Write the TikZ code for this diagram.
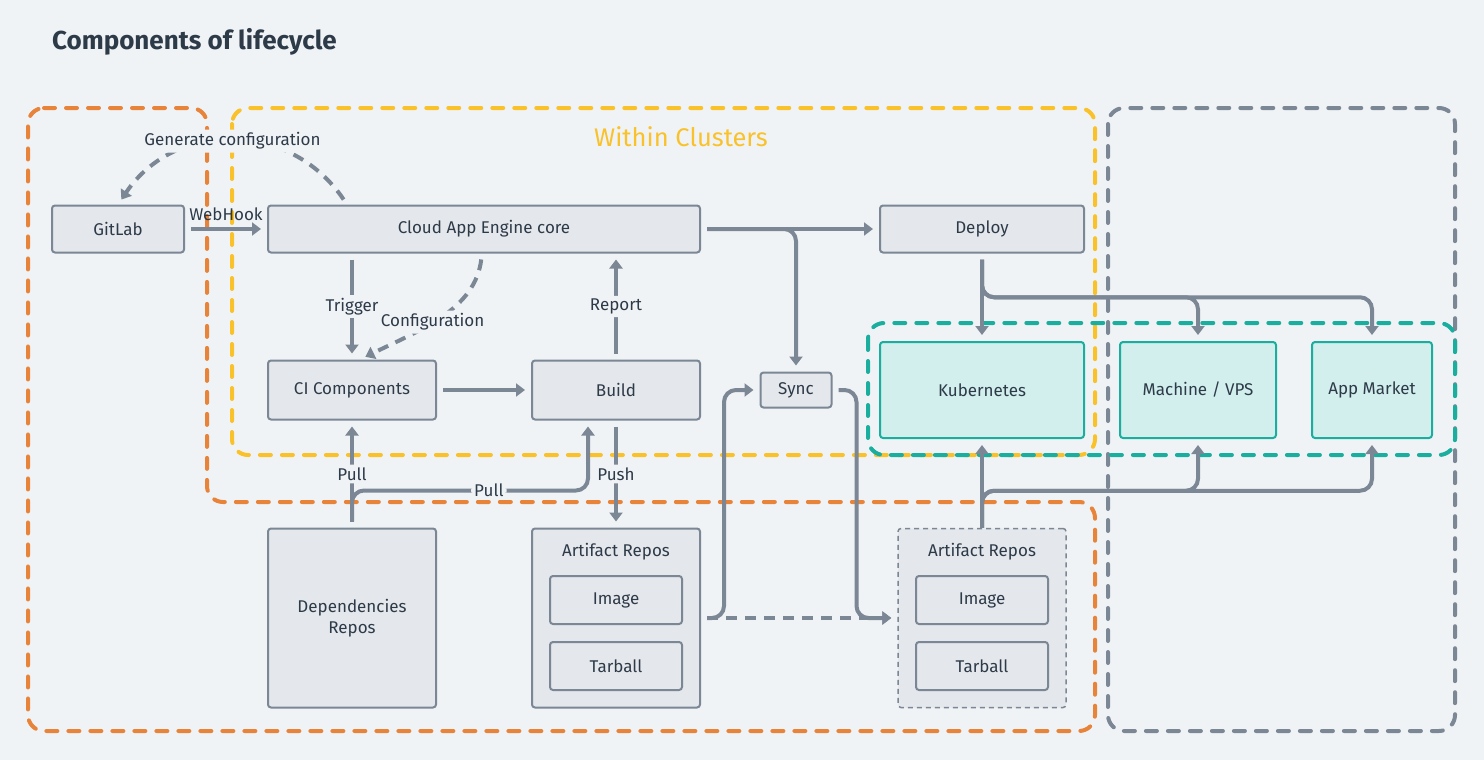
\documentclass[tikz,border=0pt]{standalone}
\usepackage{fontspec}
\setmainfont{Fira Sans}
\usetikzlibrary{arrows.meta,calc}

\definecolor{BgGray}{HTML}{F0F3F6}
\definecolor{LineGray}{HTML}{7B8794}
\definecolor{BoxFill}{HTML}{E4E7EB}
\definecolor{TextDark}{HTML}{2D3A48}
\definecolor{TealFill}{HTML}{D2EEED}
\definecolor{TealLine}{HTML}{1AAE9F}
\definecolor{ZoneOrange}{HTML}{E8833A}
\definecolor{ZoneYellow}{HTML}{F9C22B}

\tikzstyle{box}=[draw=LineGray, fill=BoxFill, line width=2pt, rounded corners=3pt, text=TextDark, font=\fontsize{17}{21}\selectfont, inner sep=0pt]
\tikzstyle{target-box}=[box, draw=TealLine, fill=TealFill]
\tikzstyle{mirror-box}=[box, line width=1.5pt, dash pattern=on 5pt off 4pt]
\tikzstyle{link}=[draw=LineGray, line width=4pt, -{Triangle[width=13pt,length=9pt]}, rounded corners=12pt, shorten <=6pt, shorten >=6pt]
\tikzstyle{dash-link}=[link, dash pattern=on 11pt off 8pt]
\tikzstyle{link-text}=[fill=BgGray, text=TextDark, font=\fontsize{17}{21}\selectfont, inner sep=3pt]
\tikzstyle{zone}=[line width=4pt, dash pattern=on 11pt off 11pt, line cap=round, rounded corners=16pt]

\begin{document}
\begin{tikzpicture}[x=1pt, y=-1pt]
  \fill[BgGray] (0,0) rectangle (1484,760);
  \useasboundingbox (0,0) rectangle (1484,760);

  % zones
  \draw[zone, draw=ZoneOrange] (28,108) -- (207,108) -- (207,502) -- (1095,502) -- (1095,731) -- (28,731) -- cycle;
  \draw[zone, draw=ZoneYellow] (232,108) rectangle (1095,455);
  \draw[zone, draw=LineGray] (1108,108) rectangle (1455,731);
  \draw[zone, draw=TealLine] (868,323) rectangle (1455,455);

  \node (title) at (52,42) [anchor=west, inner sep=0pt, text=TextDark, font=\fontsize{26}{30}\selectfont\bfseries] {Components of lifecycle};
  \node (clusters-title) at (681,137) [text=ZoneYellow, font=\fontsize{25.5}{30}\selectfont] {Within Clusters};

  % nodes
  \node (gitlab) at (118,229) [box, minimum width=132pt, minimum height=47pt] {GitLab};
  \node (core) at (484,229) [box, minimum width=432pt, minimum height=47pt] {Cloud App Engine core};
  \node (deploy) at (982,229) [box, minimum width=204pt, minimum height=47pt] {Deploy};
  \node (ci) at (352,390) [box, minimum width=168pt, minimum height=59pt] {CI Components};
  \node (build) at (616,390) [box, minimum width=168pt, minimum height=59pt] {Build};
  \node (sync) at (796,390) [box, minimum width=71pt, minimum height=35pt] {Sync};
  \node (k8s) at (982,390) [target-box, minimum width=204pt, minimum height=96pt] {Kubernetes};
  \node (vps) at (1198,390) [target-box, minimum width=156pt, minimum height=96pt] {Machine / VPS};
  \node (market) at (1372,390) [target-box, minimum width=120pt, minimum height=96pt] {App Market};
  \node (deps) at (352,618) [box, minimum width=168pt, minimum height=179pt, align=center] {Dependencies\\Repos};

  \node (artifact) at (616,618) [box, minimum width=168pt, minimum height=179pt] {};
  \node (artifact-title) at (616,552) [text=TextDark, font=\fontsize{17}{21}\selectfont] {Artifact Repos};
  \node (image) at (616,600) [box, minimum width=132pt, minimum height=48pt] {Image};
  \node (tarball) at (616,666) [box, minimum width=132pt, minimum height=48pt] {Tarball};

  \node (mirror) at (982,618) [mirror-box, minimum width=168pt, minimum height=179pt] {};
  \node (mirror-title) at (982,552) [text=TextDark, font=\fontsize{17}{21}\selectfont] {Artifact Repos};
  \node (mirror-image) at (982,600) [box, minimum width=132pt, minimum height=48pt] {Image};
  \node (mirror-tarball) at (982,666) [box, minimum width=132pt, minimum height=48pt] {Tarball};

  % split points
  \coordinate (deploy-split) at ($(deploy.south)!0.5!(k8s.north)$);
  \coordinate (mirror-split) at ($(mirror.north)+(0,-37)$);
  \coordinate (pull-split) at ($(deps.north)+(0,-37)$);
  \coordinate (artifact-split) at ($(artifact.east)+(23,0)$);
  \coordinate (sync-split) at ($(sync.east)+(24,0)$);

  % connectors
  \draw[link] (gitlab) -- node[above=6pt, text=TextDark, font=\fontsize{17}{21}\selectfont, inner sep=0pt] {WebHook} (core);
  \draw[dash-link] ([xshift=-137pt]core.north) .. controls (290,120) and (175,120) .. (gitlab.north)
    node[link-text, pos=0.5] {Generate configuration};
  \draw[link] (core.south -| ci.north) -- node[link-text] {Trigger} (ci.north);
  \draw[dash-link] ([xshift=-2pt]core.south) .. controls (475,310) and (420,330) .. ([xshift=8pt]ci.north)
    node[link-text, pos=0.56] {Configuration};
  \draw[link] (build.north) -- node[link-text] {Report} (build.north |- core.south);
  \draw[link] (ci) -- (build);
  \draw[link] (core) -- (deploy);
  \draw[link] (core.east) -| (sync.north);
  \draw[link] (deploy.south) -- (k8s.north);
  \draw[link] (deploy.south) -- (deploy-split) -| (vps.north);
  \draw[link] (deploy.south) -- (deploy-split) -| (market.north);
  \draw[link] (deps.north) -- node[link-text] {Pull} (ci.south);
  \draw[link] (deps.north) -- (pull-split) -| node[link-text, pos=0.29] {Pull} ([xshift=-28pt]build.south);
  \draw[link] (build.south) -- node[link-text] {Push} (artifact.north);
  \draw[dash-link] (artifact.east) -- (mirror.west);
  \draw[link] (artifact.east) -- (artifact-split) |- (sync.west);
  \draw[link] (sync.east) -- (sync-split) |- (mirror.west);
  \draw[link, shorten <=0pt] (mirror.north) -- (k8s.south);
  \draw[link, shorten <=0pt] (mirror.north) -- (mirror-split) -| (vps.south);
  \draw[link, shorten <=0pt] (mirror.north) -- (mirror-split) -| (market.south);
\end{tikzpicture}
\end{document}
